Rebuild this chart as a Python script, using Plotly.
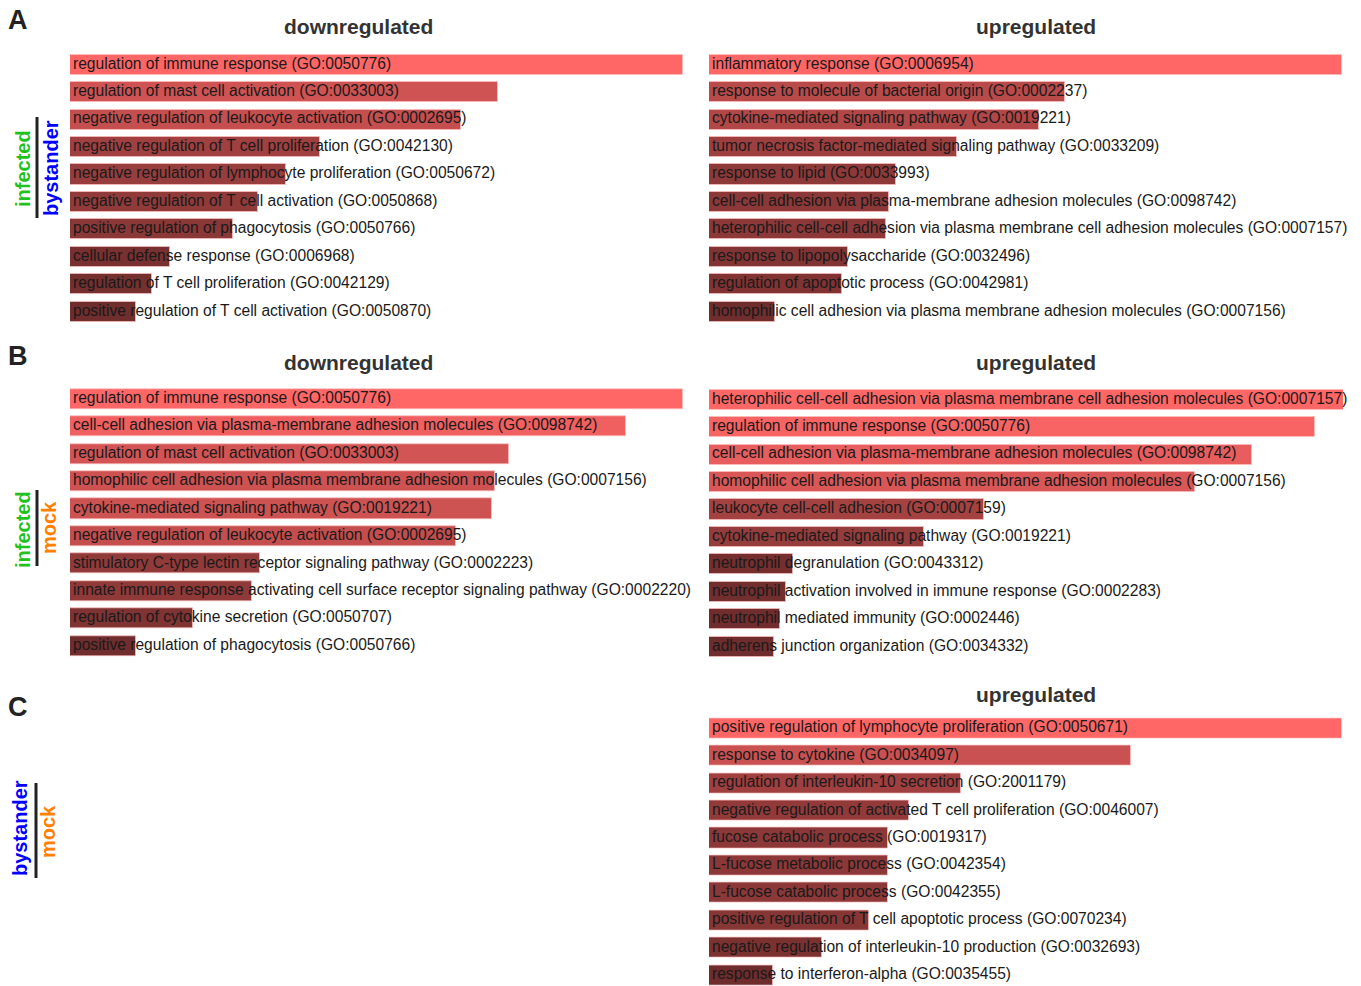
import plotly.graph_objects as go

W, H = 1361, 986

# ---------------- data ----------------
A_down_terms = [
    "regulation of immune response (GO:0050776)",
    "regulation of mast cell activation (GO:0033003)",
    "negative regulation of leukocyte activation (GO:0002695)",
    "negative regulation of T cell proliferation (GO:0042130)",
    "negative regulation of lymphocyte proliferation (GO:0050672)",
    "negative regulation of T cell activation (GO:0050868)",
    "positive regulation of phagocytosis (GO:0050766)",
    "cellular defense response (GO:0006968)",
    "regulation of T cell proliferation (GO:0042129)",
    "positive regulation of T cell activation (GO:0050870)",
]
A_down_vals = [613, 428, 391, 250, 216, 188, 163, 100, 82, 66]

A_up_terms = [
    "inflammatory response (GO:0006954)",
    "response to molecule of bacterial origin (GO:0002237)",
    "cytokine-mediated signaling pathway (GO:0019221)",
    "tumor necrosis factor-mediated signaling pathway (GO:0033209)",
    "response to lipid (GO:0033993)",
    "cell-cell adhesion via plasma-membrane adhesion molecules (GO:0098742)",
    "heterophilic cell-cell adhesion via plasma membrane cell adhesion molecules (GO:0007157)",
    "response to lipopolysaccharide (GO:0032496)",
    "regulation of apoptotic process (GO:0042981)",
    "homophilic cell adhesion via plasma membrane adhesion molecules (GO:0007156)",
]
A_up_vals = [633, 356, 330, 248, 187, 180, 177, 139, 133, 66]

B_down_terms = [
    "regulation of immune response (GO:0050776)",
    "cell-cell adhesion via plasma-membrane adhesion molecules (GO:0098742)",
    "regulation of mast cell activation (GO:0033003)",
    "homophilic cell adhesion via plasma membrane adhesion molecules (GO:0007156)",
    "cytokine-mediated signaling pathway (GO:0019221)",
    "negative regulation of leukocyte activation (GO:0002695)",
    "stimulatory C-type lectin receptor signaling pathway (GO:0002223)",
    "innate immune response activating cell surface receptor signaling pathway (GO:0002220)",
    "regulation of cytokine secretion (GO:0050707)",
    "positive regulation of phagocytosis (GO:0050766)",
]
B_down_vals = [613, 556, 439, 425, 422, 386, 190, 182, 123, 66]

B_up_terms = [
    "heterophilic cell-cell adhesion via plasma membrane cell adhesion molecules (GO:0007157)",
    "regulation of immune response (GO:0050776)",
    "cell-cell adhesion via plasma-membrane adhesion molecules (GO:0098742)",
    "homophilic cell adhesion via plasma membrane adhesion molecules (GO:0007156)",
    "leukocyte cell-cell adhesion (GO:0007159)",
    "cytokine-mediated signaling pathway (GO:0019221)",
    "neutrophil degranulation (GO:0043312)",
    "neutrophil activation involved in immune response (GO:0002283)",
    "neutrophil mediated immunity (GO:0002446)",
    "adherens junction organization (GO:0034332)",
]
B_up_vals = [635, 606, 543, 486, 275, 215, 84, 77, 71, 65]

C_up_terms = [
    "positive regulation of lymphocyte proliferation (GO:0050671)",
    "response to cytokine (GO:0034097)",
    "regulation of interleukin-10 secretion (GO:2001179)",
    "negative regulation of activated T cell proliferation (GO:0046007)",
    "fucose catabolic process (GO:0019317)",
    "L-fucose metabolic process (GO:0042354)",
    "L-fucose catabolic process (GO:0042355)",
    "positive regulation of T cell apoptotic process (GO:0070234)",
    "negative regulation of interleukin-10 production (GO:0032693)",
    "response to interferon-alpha (GO:0035455)",
]
C_up_vals = [633, 422, 252, 200, 179, 179, 179, 160, 113, 64]

panel_letters = ["A", "B", "C"]
titles = ["downregulated", "upregulated"]

# ---------------- layout helpers ----------------
def px_x(p):
    return p / W

def px_y(p):
    return 1 - p / H

STEP = 27.44
LEFT_X = (70, 683)
RIGHT_X = (709, 1343)
TEXT_PAD = 3  # label inset from the bar's base, in axis units

panels = [
    (A_down_terms, A_down_vals, LEFT_X, 51.0, 326.6),
    (A_up_terms, A_up_vals, RIGHT_X, 51.0, 326.6),
    (B_down_terms, B_down_vals, LEFT_X, 385.3, 659.7),
    (B_up_terms, B_up_vals, RIGHT_X, 386.0, 660.4),
    (C_up_terms, C_up_vals, RIGHT_X, 714.6, 986.0),
]

fig = go.Figure()
layout_axes = {}
colorscale = [[0, "rgb(95,38,38)"], [1, "rgb(255,102,102)"]]

for i, (terms, vals, xd, top, bot) in enumerate(panels, start=1):
    xa = "x" if i == 1 else f"x{i}"
    ya = "y" if i == 1 else f"y{i}"
    ys = list(range(len(terms)))
    fig.add_trace(go.Bar(
        x=vals, y=ys, orientation="h", width=0.73,
        marker=dict(color=vals, colorscale=colorscale, cmin=0, cmax=max(vals),
                    line=dict(color="rgba(255,190,190,0.7)", width=1)),
        xaxis=xa, yaxis=ya, showlegend=False, hoverinfo="skip",
    ))
    fig.add_trace(go.Scatter(
        x=[TEXT_PAD] * len(terms), y=ys, mode="text", text=terms,
        textposition="middle right",
        textfont=dict(family="Liberation Sans, Arial", size=15.6, color="#1a1a1a"),
        xaxis=xa, yaxis=ya, showlegend=False, hoverinfo="skip", cliponaxis=False,
    ))
    span_units = (bot - top) / STEP
    xkey = "xaxis" if i == 1 else f"xaxis{i}"
    ykey = "yaxis" if i == 1 else f"yaxis{i}"
    layout_axes[xkey] = dict(domain=[px_x(xd[0]), px_x(xd[1])], range=[0, xd[1] - xd[0]],
                             visible=False, fixedrange=True, anchor=ya)
    layout_axes[ykey] = dict(domain=[px_y(bot), px_y(top)], range=[-0.5 + span_units, -0.5],
                             visible=False, fixedrange=True, anchor=xa)

annotations = []
title_font = dict(family="Liberation Sans, Arial", size=21, color="#333333")
for (xc, yc, t) in [(358, 26, titles[0]), (1036, 26, titles[1]),
                    (358, 363, titles[0]), (1036, 363, titles[1]),
                    (1036, 694, titles[1])]:
    annotations.append(dict(x=px_x(xc), y=px_y(yc), xref="paper", yref="paper",
                            text=f"<b>{t}</b>", showarrow=False, xanchor="center",
                            yanchor="middle", font=title_font))
for (xc, yc, t) in [(18, 20, panel_letters[0]), (18, 356, panel_letters[1]), (18, 707, panel_letters[2])]:
    annotations.append(dict(x=px_x(xc), y=px_y(yc), xref="paper", yref="paper",
                            text=f"<b>{t}</b>", showarrow=False, xanchor="center",
                            yanchor="middle", font=dict(family="Liberation Sans, Arial", size=27, color="#222222")))

GREEN, BLUE, ORANGE = "#1fc21f", "#0000ff", "#ff8000"
side = [
    ("infected", GREEN, 23, 169), ("bystander", BLUE, 51, 168),
    ("infected", GREEN, 23, 530), ("mock", ORANGE, 49, 528),
    ("bystander", BLUE, 20, 828), ("mock", ORANGE, 48, 832),
]
for t, c, xc, yc in side:
    annotations.append(dict(x=px_x(xc), y=px_y(yc), xref="paper", yref="paper",
                            text=f"<b>{t}</b>", showarrow=False, textangle=-90,
                            xanchor="center", yanchor="middle",
                            font=dict(family="Liberation Sans, Arial", size=20, color=c)))

shapes = []
for (xc, y0, y1) in [(37, 117, 218), (37, 490, 566), (36, 783, 878)]:
    shapes.append(dict(type="line", xref="paper", yref="paper",
                       x0=px_x(xc), x1=px_x(xc), y0=px_y(y0), y1=px_y(y1),
                       line=dict(color="#222222", width=3)))

fig.update_layout(
    width=W, height=H, margin=dict(l=0, r=0, t=0, b=0),
    paper_bgcolor="white", plot_bgcolor="white",
    annotations=annotations, shapes=shapes, bargap=0,
    **layout_axes,
)

fig.write_html("out.html", config={"displayModeBar": False})
